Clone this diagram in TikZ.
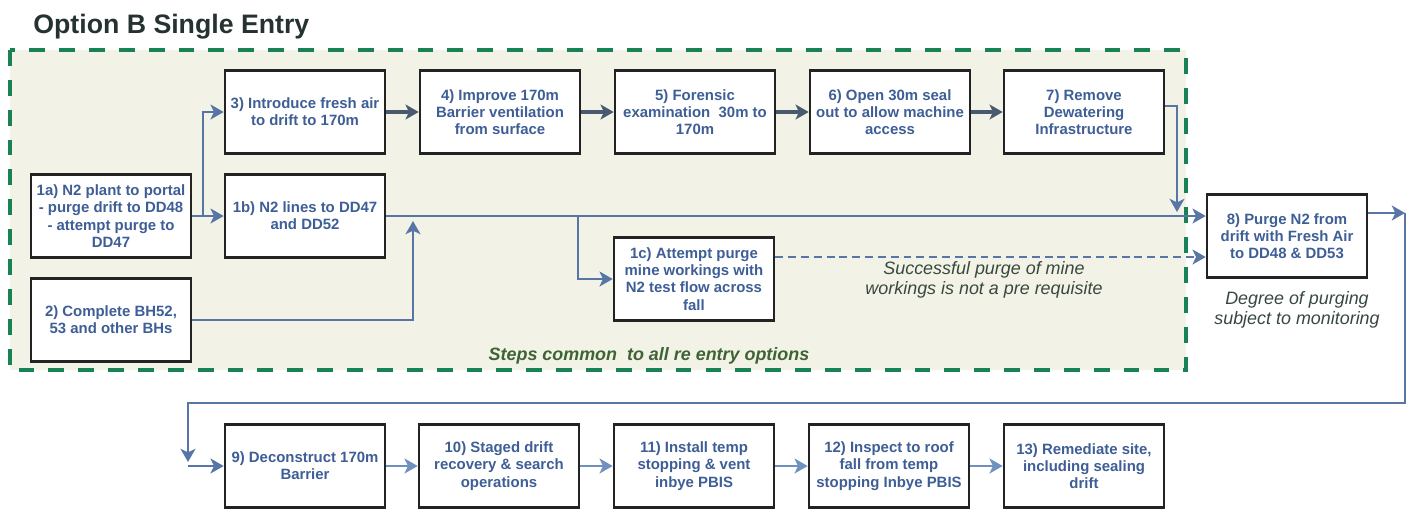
\documentclass[tikz,border=0pt]{standalone}
\usepackage{fontspec}
\setmainfont{Liberation Sans}
\usetikzlibrary{arrows.meta}
\pgfdeclarelayer{bg}
\pgfsetlayers{bg,main}
\definecolor{titlegrey}{RGB}{38,50,50}
\definecolor{boxline}{RGB}{35,35,35}
\definecolor{boxtext}{RGB}{62,94,150}
\definecolor{flowblue}{RGB}{88,118,165}
\definecolor{flowdark}{RGB}{72,90,112}
\definecolor{flowlight}{RGB}{110,145,192}
\definecolor{zonegreen}{RGB}{25,130,85}
\definecolor{zonefill}{RGB}{242,242,231}
\definecolor{notegrey}{RGB}{55,72,62}
\definecolor{stepsgreen}{RGB}{62,100,52}
\tikzset{
  stepbox/.style={draw=boxline, line width=1.5pt, fill=white,
    minimum width=3.2cm, minimum height=1.66cm, inner sep=0pt,
    align=center, text=boxtext,
    font=\bfseries\fontsize{8.5}{9.8}\selectfont},
  tip/.style={-{Stealth[length=7.5pt,width=8.5pt,inset=2pt]}},
  flow/.style={draw=flowblue, line width=1.6pt, tip},
  darkflow/.style={draw=flowdark, line width=1.8pt, tip},
  lightflow/.style={draw=flowlight, line width=1.6pt, tip},
  dashflow/.style={draw=flowblue, line width=1.6pt, tip,
    dash pattern=on 4.5pt off 2.8pt},
  note/.style={align=center, text=notegrey, inner sep=0pt,
    font=\itshape\fontsize{10.2}{11.3}\selectfont}
}
\begin{document}
\begin{tikzpicture}[x=0.02cm, y=-0.02cm]
        \useasboundingbox (0,0) rectangle (1413,508);
        \node (title) [anchor=base west, inner sep=0pt, text=titlegrey,
          font=\bfseries\fontsize{15.2}{18}\selectfont] at (33,33) {Option B Single Entry};
        \node (b1a) [stepbox] at (111,216) {1a) N2 plant to portal\\- purge drift to DD48\\- attempt purge to\\DD47};
        \node (b2) [stepbox] at (111,320) {2) Complete BH52,\\53 and other BHs};
        \node (b3) [stepbox] at (305,112) {3) Introduce fresh air\\to drift to 170m};
        \node (b1b) [stepbox] at (305,216) {1b) N2 lines to DD47\\and DD52};
        \node (b4) [stepbox] at (500,112) {4) Improve 170m\\Barrier ventilation\\from surface};
        \node (b5) [stepbox] at (695,112) {5) Forensic\\examination\ \ 30m to\\170m};
        \node (b6) [stepbox] at (890,112) {6) Open 30m seal\\out to allow machine\\access};
        \node (b7) [stepbox] at (1084,112) {7) Remove\\Dewatering\\Infrastructure};
        \node (b1c) [stepbox] at (694,279) {1c) Attempt purge\\mine workings with\\N2 test flow across\\fall};
        \node (b8) [stepbox] at (1287,236) {8) Purge N2 from\\drift with Fresh Air\\to DD48 \& DD53};
        \node (b9) [stepbox] at (305,466) {9) Deconstruct 170m\\Barrier};
        \node (b10) [stepbox] at (499,466) {10) Staged drift\\recovery \& search\\operations};
        \node (b11) [stepbox] at (694,466) {11) Install temp\\stopping \& vent\\inbye PBIS};
        \node (b12) [stepbox] at (889,466) {12) Inspect to roof\\fall from temp\\stopping Inbye PBIS};
        \node (b13) [stepbox] at (1084,466) {13) Remediate site,\\including sealing\\drift};
        \node (n1) [note] at (984,280) {Successful purge of mine\\workings is not a pre requisite};
        \node (n2) [note, text=stepsgreen, font=\bfseries\itshape\fontsize{10.2}{11.3}\selectfont] at (649,356) {Steps common\ \ to all re entry options};
        \node (n3) [note] at (1297,310) {Degree of purging\\subject to monitoring};
        \coordinate (j1) at (203,216);
        \coordinate (j2) at (413,221);
        \coordinate (j3) at (578,216);
        \coordinate (j4) at (1177,212);
        \coordinate (c1) at (1405,213);
        \coordinate (c2) at (188,403);
        \coordinate (c3) at (188,462);
        \coordinate (d1) at ([yshift=0.44cm]b1c.east);
        \begin{pgfonlayer}{bg}
                \fill[zonefill] (10,50) rectangle (1186,370);
                \draw[zonegreen, line width=2pt, dash pattern=on 9pt off 8pt] (10,50) rectangle (1186,370);
                \draw (b1a) edge [flow] (b1b);
                \draw[flow] (j1) |- (b3.west);
                \draw[flow] (b2.east) -| (j2);
                \draw[flow] (b1b.east) -- (b1b.east -| b8.west);
                \draw[flow] (j3) |- (b1c.west);
                \draw[dashflow] (d1) -- (d1 -| b8.west);
                \draw (b3) edge [darkflow] (b4);
                \draw (b4) edge [darkflow] (b5);
                \draw (b5) edge [darkflow] (b6);
                \draw (b6) edge [darkflow] (b7);
                \draw[flow, line width=1.1pt] ([yshift=0.12cm]b7.east) -| (j4);
                \draw[flow] (b8.east |- c1) -- (c1);
                \draw[flow, line width=1.3pt] (c1) |- (c2) -- (c3);
                \draw[flow] (c3 |- b9.west) -- (b9.west);
                \draw (b9) edge [lightflow] (b10);
                \draw (b10) edge [lightflow] (b11);
                \draw (b11) edge [lightflow] (b12);
                \draw (b12) edge [lightflow] (b13);
        \end{pgfonlayer}
\end{tikzpicture}
\end{document}
